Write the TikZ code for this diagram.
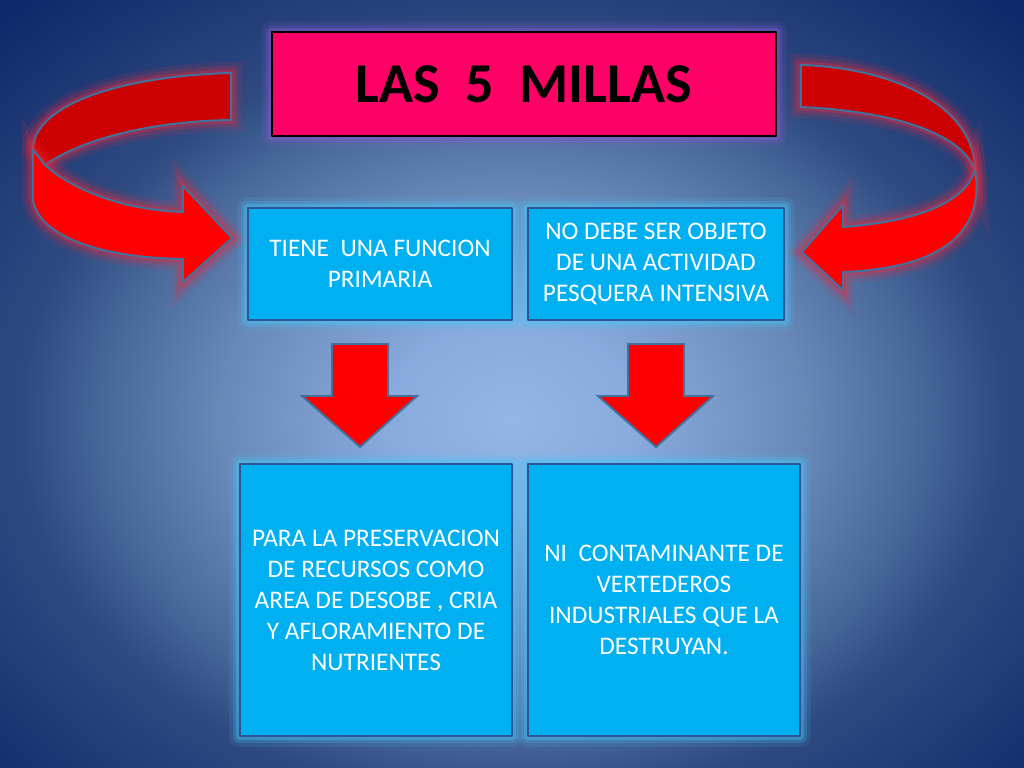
\documentclass[tikz,border=0pt]{standalone}
\usepackage{fontspec}
\setmainfont{Carlito}
\usetikzlibrary{positioning}

\definecolor{titlepink}{RGB}{255,0,102}
\definecolor{boxblue}{RGB}{0,176,240}
\definecolor{boxline}{RGB}{47,85,151}
\definecolor{arrowline}{RGB}{65,113,156}
\definecolor{darkred}{RGB}{204,0,0}
\definecolor{glowcyan}{RGB}{70,200,250}
\definecolor{glowpurple}{RGB}{140,90,210}
\definecolor{glowred}{RGB}{235,40,60}
\definecolor{bgin}{RGB}{147,182,230}
\definecolor{bga}{RGB}{136,170,220}
\definecolor{bgb}{RGB}{104,136,184}
\definecolor{bgc}{RGB}{74,106,156}
\definecolor{bgd}{RGB}{46,74,128}
\definecolor{bgout}{RGB}{16,41,106}
\pgfdeclareradialshading{bgshade}{\pgfpoint{0bp}{0bp}}{color(0bp)=(bgin); color(3.9bp)=(bga); color(9.1bp)=(bgb); color(12.5bp)=(bgc); color(15.4bp)=(bgd); color(22.6bp)=(bgout); color(50bp)=(bgout)}

\begin{document}
\begin{tikzpicture}[x=0.025cm, y=-0.025cm]
    \tikzset{halo/.style={line join=round,
        preaction={draw=#1,line width=16pt,draw opacity=0.12},
        preaction={draw=#1,line width=10pt,draw opacity=0.2},
        preaction={draw=#1,line width=5pt,draw opacity=0.35}}}
    \tikzstyle{titlebox}=[draw=black,line width=2pt,fill=titlepink,halo=glowpurple,
        font=\fontsize{40}{48}\selectfont\bfseries,minimum width=12.6cm,minimum height=2.6cm]
    \tikzstyle{infobox}=[draw=boxline,line width=1.8pt,fill=boxblue,halo=glowcyan,text=white,
        align=center,font=\fontsize{18}{22}\selectfont]
    \tikzstyle{band}=[draw=arrowline,line width=1.4pt,halo=glowred]
    \tikzstyle{downarrow}=[draw=arrowline,line width=1.4pt,fill=red]

  \useasboundingbox (0,0) rectangle (1024,768);
  %% background
  \begin{scope}
    \clip (0,0) rectangle (1024,768);
    \shade[shading=bgshade] (512,420) ellipse [x radius=800, y radius=620];
  \end{scope}

  %% curved arrow, left
  \draw[band,fill=darkred] (231,73) .. controls (120,76) and (33,105) .. (33,150)
    -- (45,165) .. controls (80,140) and (150,121) .. (231,120) -- cycle;
  \draw[band,fill=red] (33,150) -- (33,200) .. controls (40,240) and (110,258) .. (183,259)
    -- (183,282) -- (232,238) -- (183,186) -- (183,212)
    .. controls (120,210) and (70,188) .. (45,165) -- cycle;

  %% curved arrow, right
  \draw[band,fill=darkred] (801,65) .. controls (900,68) and (975,110) .. (975,170)
    .. controls (965,140) and (910,112) .. (801,107) -- cycle;
  \draw[band,fill=red] (975,170) .. controls (985,230) and (945,268) .. (843,272)
    -- (843,290) -- (802,252) -- (843,205) -- (843,227)
    .. controls (910,222) and (965,205) .. (975,170) -- cycle;

  \node (title) at (524,84) [titlebox] {LAS\ \ 5\ \ MILLAS};

  \node (funcion) at (380,264) [infobox,minimum width=6.6cm,minimum height=2.8cm]
    {TIENE\ \ UNA FUNCION\\PRIMARIA};
  \node (objeto) at (656,264) [infobox,minimum width=6.4cm,minimum height=2.8cm]
    {NO DEBE SER OBJETO\\DE UNA ACTIVIDAD\\PESQUERA INTENSIVA};
  \node (preserv) at (376,600) [infobox,minimum width=6.8cm,minimum height=6.8cm]
    {PARA LA PRESERVACION\\DE RECURSOS COMO\\AREA DE DESOBE , CRIA\\Y AFLORAMIENTO DE\\NUTRIENTES};
  \node (contam) at (664,600) [infobox,minimum width=6.8cm,minimum height=6.8cm]
    {NI\ \ CONTAMINANTE DE\\VERTEDEROS\\INDUSTRIALES QUE LA\\DESTRUYAN.};

  %% block arrows down
  \draw[downarrow] (332,344) -- (388,344) -- (388,396) -- (417,396) -- (360,447)
    -- (302,396) -- (332,396) -- cycle;
  \draw[downarrow] (628,344) -- (684,344) -- (684,396) -- (713,396) -- (656,447)
    -- (598,396) -- (628,396) -- cycle;
\end{tikzpicture}
\end{document}
